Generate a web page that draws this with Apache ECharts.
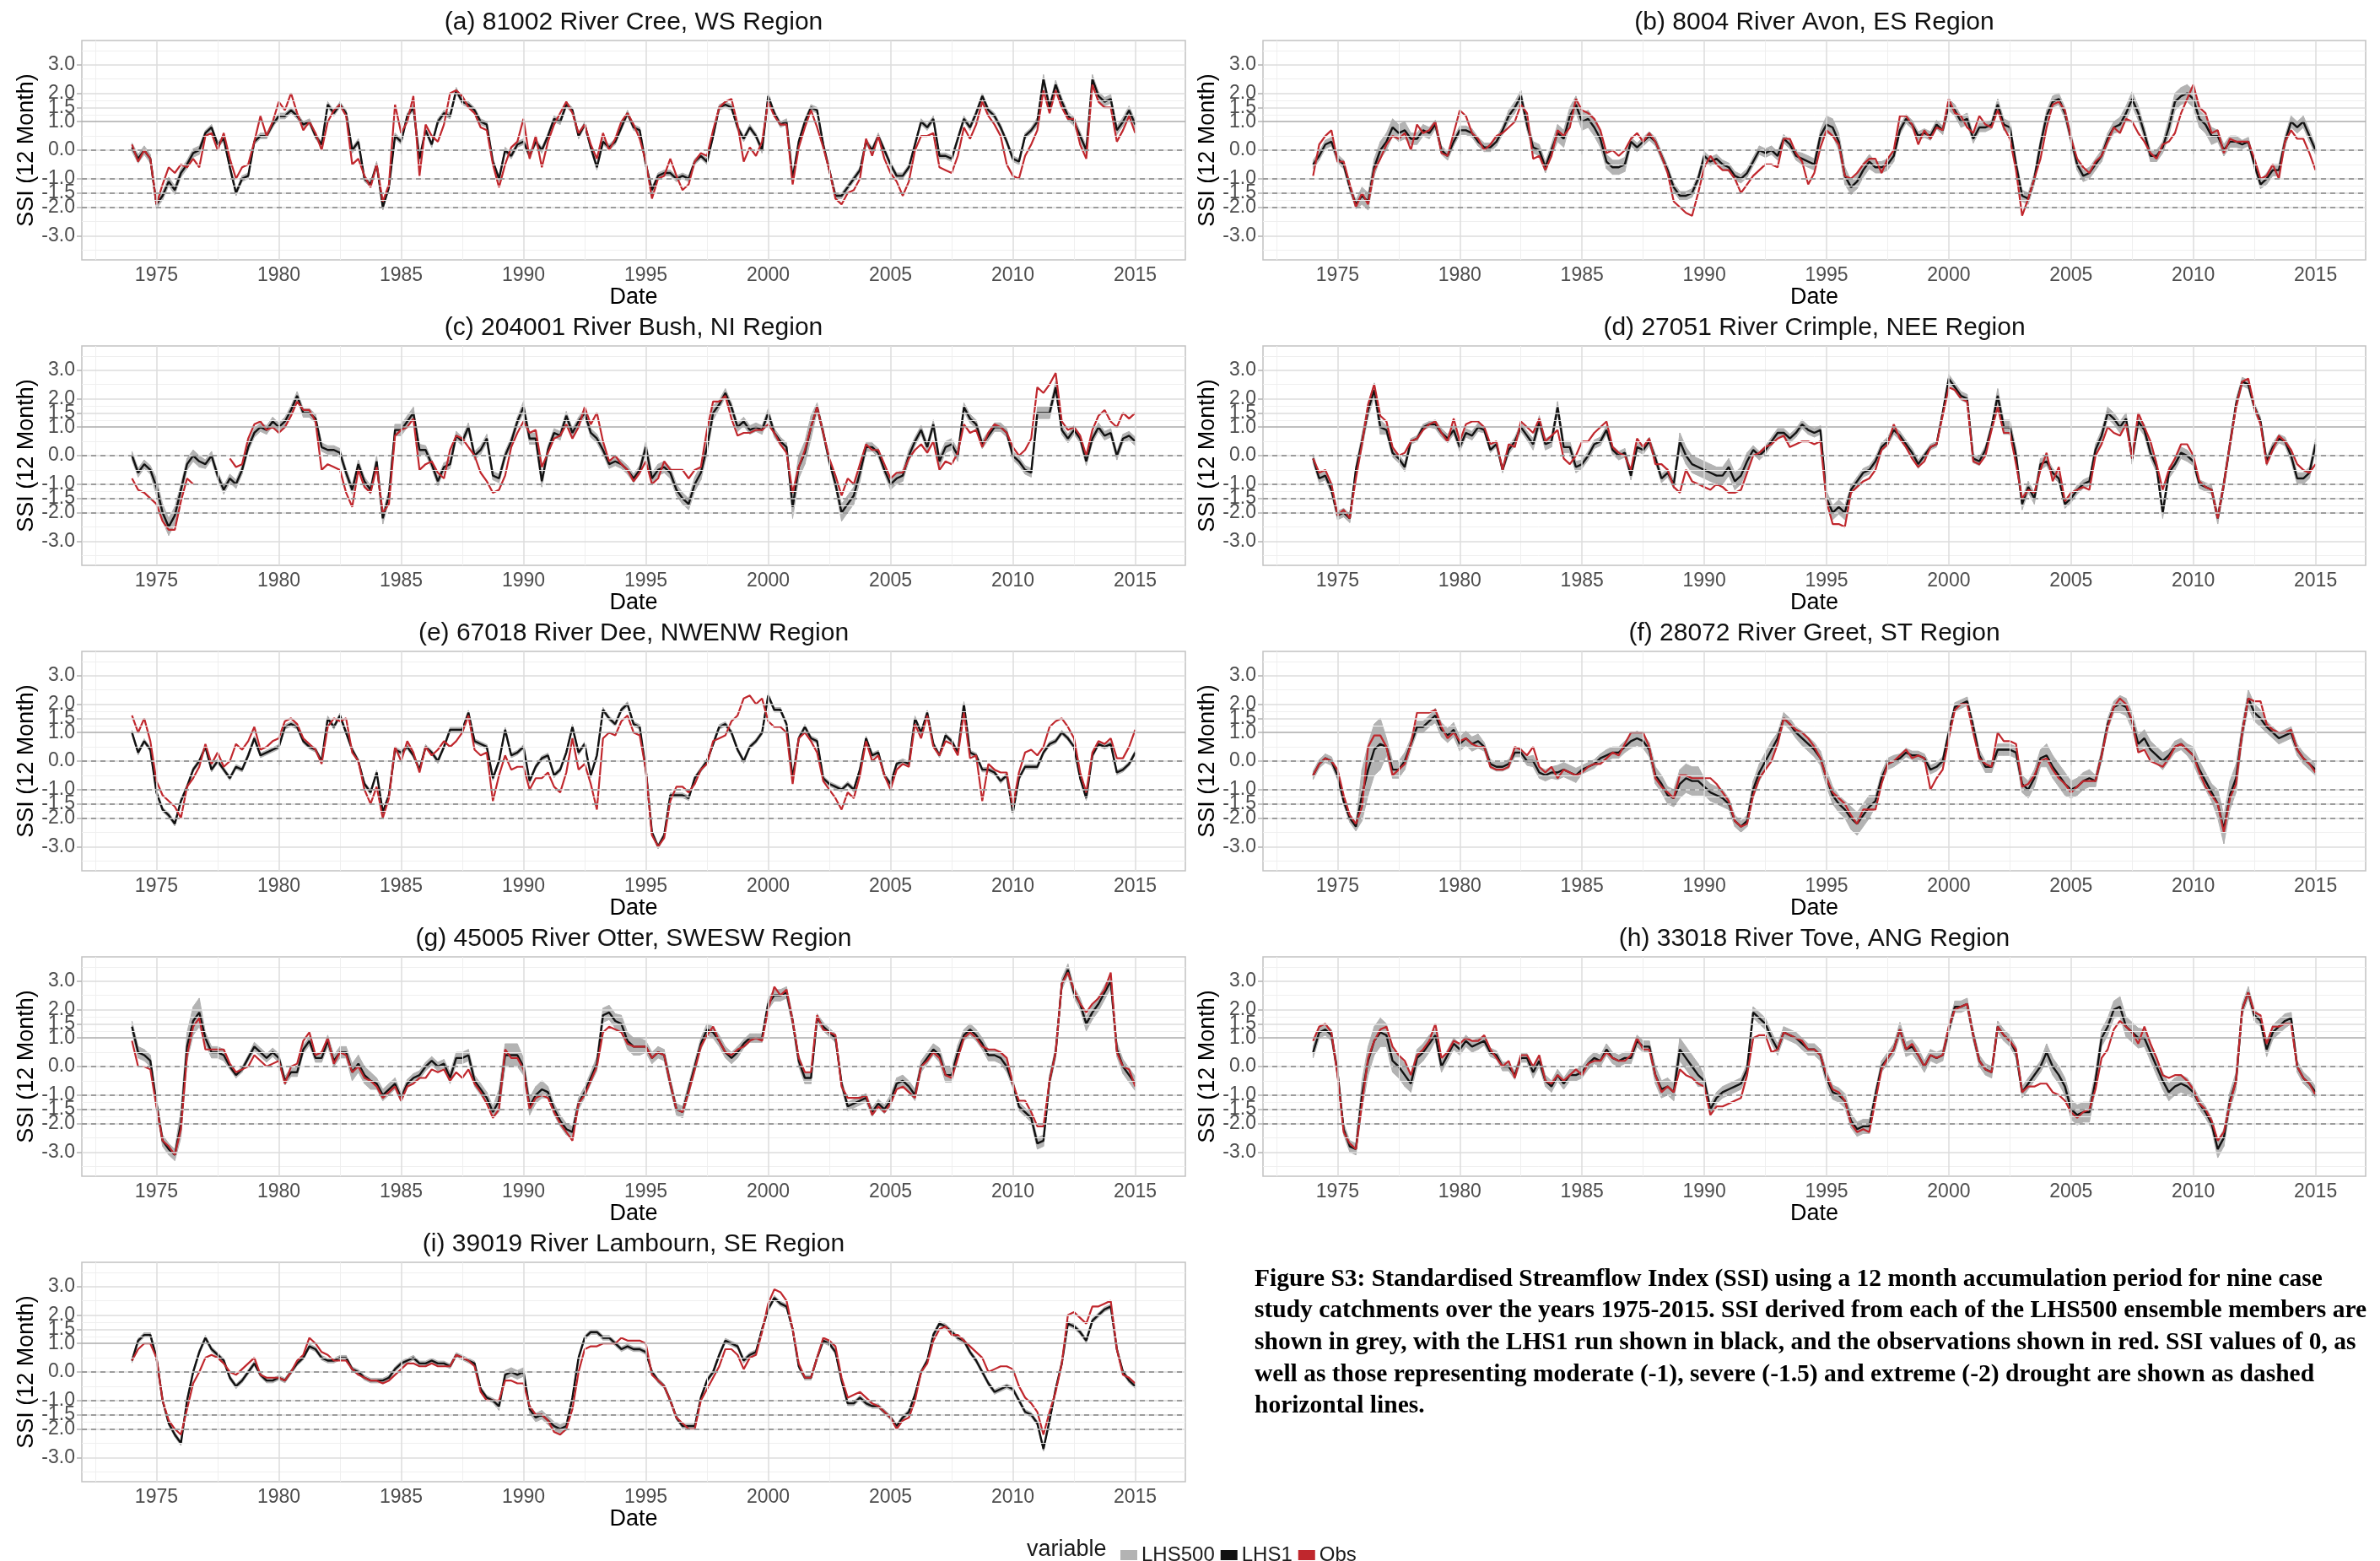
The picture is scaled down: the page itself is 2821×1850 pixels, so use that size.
<!DOCTYPE html>
<html><head><meta charset="utf-8">
<script src="https://cdn.jsdelivr.net/npm/echarts@6/dist/echarts.min.js"></script>
<style>html,body{margin:0;padding:0;background:#fff}#c{width:2821px;height:1850px}</style>
</head><body><div id="c"></div><script>
// ---- axis / tick definitions ----
const xTicks = [1975,1980,1985,1990,1995,2000,2005,2010,2015];
const xMinor = [1972.5,1977.5,1982.5,1987.5,1992.5,1997.5,2002.5,2007.5,2012.5];
const yTicks = [-3,-2,-1.5,-1,0,1,1.5,2,3];
const yMinor = [-3.5,-2.5,-1.75,-1.25,-0.5,0.5,1.25,1.75,2.5,3.5];
const droughtLines = [0,-1,-1.5,-2];
const T0 = 1974, STEP = 0.25; // quarterly samples, Jan 1974 .. Jan 2015

const titles = [
 '(a) 81002 River Cree, WS Region','(b) 8004 River Avon, ES Region',
 '(c) 204001 River Bush, NI Region','(d) 27051 River Crimple, NEE Region',
 '(e) 67018 River Dee, NWENW Region','(f) 28072 River Greet, ST Region',
 '(g) 45005 River Otter, SWESW Region','(h) 33018 River Tove, ANG Region',
 '(i) 39019 River Lambourn, SE Region'];

// ---- (a) ----
const aLHS1 = [0.1,-0.3,0.0,-0.3, -1.9,-1.6,-1.1,-1.4, -0.8,-0.5,-0.1,0.0, 0.6,0.8,0.2,0.4, -0.6,-1.5,-1.0,-0.9,
 0.3,0.5,0.5,0.9, 1.2,1.2,1.4,1.2, 0.9,1.0,0.5,0.2, 1.6,1.3,1.6,1.3, 0.0,0.3,-1.0,-1.2,
 -0.5,-2.0,-1.3,0.5, 0.3,1.2,1.5,-0.3, 0.7,0.2,1.0,1.3, 1.2,2.1,1.7,1.6, 1.4,1.0,0.9,-0.4,
 -1.0,0.0,-0.2,0.2, 0.3,-0.2,0.3,0.0, 0.5,1.1,1.0,1.6, 1.4,0.5,0.9,0.1, -0.6,0.3,0.1,0.3,
 0.8,1.3,0.8,0.7, -0.5,-1.4,-0.9,-0.8, -0.8,-1.0,-0.9,-1.0, -0.4,-0.2,-0.4,0.5, 1.5,1.6,1.5,0.8,
 0.4,0.8,0.5,0.0, 1.9,1.3,0.9,1.0, -1.0,0.3,1.0,1.5, 1.4,0.2,-0.7,-1.6, -1.6,-1.3,-1.0,-0.7,
 0.3,0.0,0.5,0.0, -0.5,-0.9,-0.9,-0.6, 0.2,1.0,0.8,1.1, -0.2,-0.2,-0.3,0.4, 1.1,0.8,1.3,1.9,
 1.4,1.2,0.8,0.3, -0.3,-0.4,0.5,0.7, 1.0,2.5,1.5,2.3, 1.7,1.2,1.0,0.5, 0.0,2.5,1.9,1.7,
 1.8,0.7,1.0,1.4, 0.9];
const aObs = [0.2,-0.4,0.0,-0.3, -1.9,-1.2,-0.6,-0.8, -0.5,-0.6,-0.3,-0.6, 0.5,0.6,0.0,0.6, -0.3,-1.0,-0.6,-0.5,
 0.3,1.2,0.5,1.0, 1.7,1.4,2.0,1.3, 0.7,1.0,0.6,0.0, 1.0,1.4,1.6,1.2, -0.5,-0.3,-0.9,-1.3,
 -0.5,-1.8,-1.2,1.6, 0.6,1.0,1.9,-0.9, 0.9,0.5,0.3,0.9, 2.0,2.1,1.9,1.5, 1.3,0.8,0.7,-0.5,
 -1.3,-0.5,0.1,0.3, 1.1,-0.3,0.5,-0.6, 0.3,0.9,1.3,1.7, 1.3,0.6,0.9,0.2, -0.3,0.6,0.0,0.4,
 1.0,1.3,0.9,0.4, -0.4,-1.7,-1.0,-0.9, -0.3,-0.9,-1.4,-1.2, -0.4,-0.1,-0.2,0.7, 1.5,1.7,1.8,0.9,
 -0.4,0.1,-0.2,0.3, 1.7,1.2,0.9,0.9, -1.2,0.1,0.8,1.4, 0.8,0.1,-0.7,-1.7, -1.9,-1.5,-1.4,-1.0,
 0.4,-0.2,0.5,-0.3, -0.8,-1.1,-1.6,-1.1, 0.0,0.5,0.5,0.6, -0.6,-0.7,-0.8,-0.2, 0.8,0.4,0.9,1.7,
 1.2,0.9,0.5,-0.5, -0.9,-1.0,-0.2,0.2, 0.7,2.1,1.3,2.1, 1.5,1.1,1.1,0.2, -0.3,2.3,1.7,1.5,
 1.5,0.3,0.7,1.2, 0.6];
const aSpread = [0.15,0.15,0.15,0.1,0.1,0.1,0.1,0.1,0.1,0.1,0.1,0.1,0.1,0.1,0.1,0.1,0.1,0.1,0.1,0.1,0.1,
 0.1,0.1,0.1,0.1,0.1,0.1,0.1,0.1,0.1,0.1,0.1,0.1,0.1,0.1,0.1,0.1,0.15,0.15,0.15,0.15,0.15];

// ---- (b) ----
const bLHS1 = [-0.5,-0.2,0.2,0.3, -0.3,-0.5,-1.3,-1.9, -1.6,-1.8,-0.6,0.0, 0.3,0.8,0.6,0.7, 0.4,0.4,0.7,0.6,
 0.9,0.0,-0.2,0.3, 0.7,0.7,0.6,0.3, 0.1,0.1,0.3,0.7, 1.2,1.5,1.9,0.9, 0.1,0.0,-0.6,0.0,
 0.6,0.4,1.2,1.6, 1.0,1.1,0.8,0.4, -0.4,-0.6,-0.6,-0.5, 0.3,0.1,0.3,0.5, 0.3,-0.2,-0.7,-1.3,
 -1.6,-1.6,-1.5,-1.0, -0.2,-0.4,-0.3,-0.5, -0.6,-0.9,-1.0,-0.8, -0.4,0.0,-0.1,0.0, -0.2,0.4,0.2,-0.2,
 -0.3,-0.4,-0.5,0.5, 0.9,0.8,0.3,-0.9, -1.3,-1.1,-0.7,-0.4, -0.6,-0.6,-0.5,-0.2, 0.7,1.1,0.9,0.5,
 0.6,0.5,0.9,0.7, 1.6,1.4,1.0,1.1, 0.4,0.8,0.8,0.9, 1.6,0.9,0.8,-0.5, -1.6,-1.7,-1.0,0.2,
 1.2,1.7,1.8,1.3, 0.4,-0.5,-0.9,-0.8, -0.5,-0.2,0.4,0.8, 0.9,1.3,1.8,1.3, 0.6,-0.2,-0.2,0.1,
 0.8,1.7,1.9,2.0, 1.8,1.1,0.9,0.5, 0.5,0.0,0.3,0.3, 0.2,0.3,-0.5,-1.2, -1.0,-0.7,-0.7,0.3,
 1.0,0.8,1.0,0.5, 0.0];
const bObs = [-0.9,0.2,0.5,0.7, -0.4,-0.4,-1.2,-2.0, -1.5,-1.9,-0.7,-0.3, 0.2,0.5,0.4,0.6, 0.0,0.9,0.6,0.7,
 1.0,-0.1,-0.2,0.6, 1.4,1.2,0.6,0.4, 0.0,0.2,0.5,0.6, 0.8,1.0,1.6,1.3, -0.3,-0.2,-0.7,-0.2,
 0.7,0.5,0.8,1.8, 1.4,1.3,1.1,0.7, -0.1,0.0,-0.2,0.0, 0.4,0.6,0.3,0.6, 0.3,-0.2,-0.8,-1.8,
 -2.0,-2.2,-2.3,-1.5, -0.6,-0.2,-0.5,-0.7, -0.7,-1.0,-1.5,-1.2, -0.9,-0.7,-0.5,-0.5, -0.6,0.4,0.4,-0.1,
 -0.4,-1.2,-0.8,0.1, 0.7,0.5,0.2,-0.9, -1.0,-0.8,-0.5,-0.3, -0.3,-0.8,-0.3,0.0, 1.2,1.2,0.9,0.2,
 0.7,0.4,0.8,0.7, 1.8,1.3,1.2,0.8, 0.6,1.2,0.9,0.8, 1.4,0.8,0.4,-0.7, -2.3,-1.7,-1.0,-0.3,
 0.8,1.6,1.7,1.4, 0.4,-0.3,-0.6,-0.8, -0.4,-0.2,0.3,0.8, 0.6,1.1,1.0,0.6, 0.3,-0.1,-0.3,0.2,
 0.3,0.6,1.3,1.8, 2.3,1.5,1.3,0.6, 0.7,-0.1,0.4,0.3, 0.3,0.3,-0.3,-1.0, -0.9,-0.5,-1.0,0.3,
 0.7,0.4,0.4,-0.1, -0.7];
const bSpread = [0.15,0.15,0.3,0.3,0.2,0.15,0.15,0.15,0.2,0.2,0.3,0.3,0.25,0.15,0.15,0.15,0.15,0.15,0.15,0.15,0.2,
 0.3,0.25,0.2,0.15,0.15,0.2,0.15,0.2,0.2,0.2,0.2,0.2,0.25,0.2,0.3,0.3,0.2,0.15,0.2,0.2,0.15];

// ---- (c) ----
const cLHS1 = [0.0,-0.6,-0.3,-0.5, -1.1,-2.0,-2.5,-2.1, -1.2,-0.3,0.0,-0.2, -0.3,0.0,-0.7,-1.2, -0.8,-1.0,-0.5,0.3,
 0.8,1.0,0.9,1.2, 1.0,1.2,1.6,2.1, 1.5,1.5,1.3,0.3, 0.2,0.2,0.1,-0.6, -1.2,-0.3,-0.9,-1.2,
 -0.2,-2.2,-1.4,0.9, 0.9,1.2,1.5,0.2, 0.2,-0.3,-0.9,-0.4, -0.3,0.7,0.5,1.0, 0.0,0.2,0.6,-0.7,
 -0.8,0.0,0.5,1.2, 1.7,0.6,0.6,-0.9, 0.2,0.8,0.7,1.4, 0.8,1.2,1.5,0.8, 0.6,0.2,-0.3,-0.2,
 -0.3,-0.5,-0.8,-0.5, 0.3,-0.8,-0.5,-0.4, -0.6,-1.2,-1.5,-1.7, -1.0,-0.6,0.3,1.5, 1.8,2.2,1.7,1.0,
 1.2,0.9,1.0,0.9, 1.5,0.8,0.5,0.3, -1.8,-0.4,0.1,1.0, 1.7,0.8,-0.2,-1.0, -2.0,-1.7,-1.4,-0.6,
 0.3,0.3,0.1,-0.5, -1.0,-0.8,-0.7,0.0, 0.5,0.9,0.3,1.1, -0.2,0.3,0.4,0.0, 1.7,1.3,1.1,0.4,
 0.7,1.0,1.0,0.8, 0.0,-0.2,-0.5,-0.6, 1.5,1.5,1.5,2.4, 0.9,0.6,0.9,0.6, -0.2,0.6,1.0,0.7,
 0.8,0.0,0.6,0.7, 0.5];
const cObs = [-0.8,-1.2,-1.3,-1.5, -1.7,-2.3,-2.6,-2.6, -1.6,-0.8,-1.0,null, null,null,null,null, -0.1,-0.4,-0.3,0.6,
 1.1,1.2,0.9,1.0, 0.8,1.0,1.4,1.9, 1.6,1.6,1.2,-0.5, -0.3,-0.4,-0.5,-1.3, -1.8,-0.5,-1.1,-1.3,
 -0.4,-2.0,-1.7,0.7, 0.9,1.0,1.3,-0.5, -0.3,-0.2,-0.6,-0.8, 0.2,0.7,0.6,0.3, 0.0,-0.6,-0.9,-1.3,
 -1.2,-0.7,0.3,0.8, 1.2,0.8,0.9,-0.4, 0.1,0.6,0.7,1.1, 0.6,1.0,1.7,1.1, 1.5,0.5,-0.2,0.0,
 -0.3,-0.5,-0.9,-0.6, -0.2,-1.0,-0.8,-0.2, -0.5,-0.5,-0.5,-0.8, -0.5,-0.4,0.9,1.9, 1.9,2.1,1.3,0.7,
 0.8,0.8,0.9,0.9, 1.1,0.8,0.4,0.1, -1.3,-0.4,0.2,1.0, 1.7,0.8,-0.1,-0.7, -1.4,-0.8,-1.0,-0.3,
 0.4,0.2,0.2,-0.3, -0.8,-0.6,-0.6,-0.1, 0.2,0.4,0.1,0.5, -0.5,-0.2,-0.3,0.1, 1.1,0.8,0.9,0.3,
 0.8,1.1,1.0,0.8, 0.3,0.0,0.2,0.6, 2.4,2.2,2.5,2.9, 1.2,0.9,1.0,0.7, 0.0,0.9,1.4,1.6,
 1.2,1.0,1.5,1.3, 1.5];
const cSpread = [0.15,0.3,0.2,0.15,0.15,0.15,0.15,0.15,0.15,0.15,0.2,0.2,0.15,0.15,0.15,0.15,0.2,0.15,0.15,0.15,0.15,
 0.2,0.2,0.25,0.15,0.15,0.15,0.4,0.15,0.3,0.15,0.2,0.15,0.2,0.15,0.15,0.15,0.2,0.15,0.15,0.15,0.15];

// ---- (d) ----
const dLHS1 = [-0.1,-0.8,-0.7,-1.2, -2.1,-2.0,-2.2,-0.5, 0.5,1.6,2.3,1.0, 0.9,0.1,-0.1,-0.4, 0.5,0.6,1.0,1.1,
 1.1,0.8,0.6,0.9, 0.3,0.8,0.7,1.0, 0.9,0.2,0.4,-0.5, 0.2,0.5,1.0,0.7, 0.4,1.2,0.4,0.5,
 1.7,0.3,0.3,-0.4, -0.3,0.0,0.4,0.5, 0.9,0.2,0.0,0.1, -0.7,0.3,0.2,0.5, -0.1,-0.8,-0.6,-1.0,
 0.5,0.0,-0.3,-0.4, -0.5,-0.6,-0.7,-0.7, -0.4,-0.9,-0.7,-0.2, 0.2,0.0,0.2,0.5, 0.8,0.8,0.6,0.8,
 1.1,0.9,0.8,0.9, -1.5,-2.0,-1.8,-2.0, -1.2,-0.9,-0.6,-0.5, -0.2,0.3,0.5,0.9, 0.7,0.4,0.1,-0.3,
 0.0,0.3,0.4,1.5, 2.7,2.4,2.1,2.0, -0.1,-0.2,0.2,1.0, 2.1,1.0,1.0,0.0, -1.7,-1.1,-1.5,-0.3,
 -0.2,-0.6,-0.8,-1.7, -1.5,-1.2,-1.0,-0.9, 0.2,0.7,1.5,1.3, 1.0,1.3,-0.1,1.2, 0.9,0.1,-0.4,-2.0,
 -0.6,-0.3,0.1,0.0, -0.2,-1.0,-1.1,-1.2, -2.2,-1.0,0.4,1.8, 2.6,2.5,1.7,1.2, -0.2,0.3,0.6,0.5,
 0.0,-0.8,-0.8,-0.6, 0.4];
const dObs = [-0.1,-0.6,-0.5,-1.0, -2.1,-1.9,-2.2,-0.8, 0.4,1.8,2.5,1.4, 1.2,0.3,0.0,0.1, 0.5,0.6,0.9,1.1,
 1.2,0.8,0.5,1.3, 0.5,1.1,1.2,1.2, 1.0,0.4,0.5,-0.5, 0.4,0.3,1.2,1.0, 0.8,1.3,0.5,0.7,
 0.9,-0.1,-0.3,0.0, 0.5,0.5,0.8,1.0, 1.2,0.3,0.1,0.0, -0.5,0.6,0.3,0.6, -0.3,-0.3,-0.5,-1.1,
 -1.3,-0.5,-0.9,-1.0, -1.1,-1.2,-1.0,-1.1, -1.3,-1.3,-1.2,-0.6, 0.0,0.1,0.3,0.4, 0.6,0.7,0.3,0.4,
 0.5,0.5,0.4,0.5, -1.6,-2.4,-2.4,-2.5, -1.3,-1.1,-0.9,-0.8, -0.5,0.2,0.4,1.1, 0.6,0.3,-0.1,-0.4,
 -0.2,0.3,0.4,1.4, 2.4,2.3,2.0,1.9, -0.2,-0.3,0.0,0.9, 1.7,0.8,0.8,-0.3, -1.5,-1.2,-1.3,-0.5,
 0.1,-0.9,-0.4,-1.6, -1.3,-1.2,-1.1,-1.2, 0.0,0.4,1.0,0.8, 0.7,1.1,-0.1,1.5, 1.0,0.5,-0.3,-1.2,
 -0.5,-0.1,0.4,0.4, 0.0,-0.9,-1.1,-1.2, -2.2,-1.0,0.4,1.7, 2.6,2.7,1.7,1.1, -0.3,0.2,0.7,0.5,
 0.2,-0.3,-0.5,-0.6, -0.3];
const dSpread = [0.15,0.15,0.25,0.15,0.1,0.15,0.15,0.1,0.15,0.2,0.2,0.15,0.15,0.15,0.15,0.3,0.3,0.3,0.15,0.15,0.15,
 0.25,0.15,0.15,0.15,0.1,0.15,0.15,0.25,0.2,0.15,0.15,0.2,0.2,0.2,0.2,0.15,0.2,0.15,0.15,0.2,0.2];

// ---- (e) ----
const eLHS1 = [1.0,0.3,0.7,0.4, -1.1,-1.7,-1.9,-2.2, -1.4,-0.9,-0.3,0.0, 0.5,-0.3,0.0,-0.3, -0.6,-0.2,-0.3,0.2,
 0.8,0.2,0.3,0.4, 0.5,1.2,1.3,1.2, 0.7,0.5,0.4,0.0, 1.5,1.2,1.6,1.0, 0.4,0.0,-0.8,-1.1,
 -0.4,-1.8,-1.2,0.4, 0.3,0.5,0.2,-0.3, 0.5,0.3,0.0,0.5, 1.1,1.1,1.1,1.7, 0.7,0.6,0.5,-0.6,
 0.0,1.1,0.2,0.3, 0.5,-0.7,-0.2,0.1, 0.2,-0.5,-0.3,0.3, 1.2,0.3,0.6,-0.5, 0.2,1.8,1.5,1.3,
 1.8,2.0,1.3,1.2, -0.3,-2.5,-3.0,-2.6, -1.2,-1.2,-1.2,-1.3, -0.6,-0.3,0.0,0.6, 1.2,1.3,1.0,0.4,
 0.0,0.5,0.7,1.0, 2.3,1.8,1.8,1.3, -0.6,0.8,1.2,0.8, 0.7,-0.6,-0.8,-0.9, -1.0,-0.8,-1.0,-0.3,
 0.8,0.2,0.3,-0.5, -0.8,-0.1,0.0,-0.1, 1.5,1.0,1.7,0.6, 0.2,0.9,0.7,0.3, 2.0,0.3,0.2,-0.3,
 -0.3,-0.4,-0.7,-0.5, -1.8,-0.6,-0.2,-0.2, -0.2,0.3,0.6,0.7, 1.0,0.8,0.5,-0.6, -1.3,0.2,0.6,0.5,
 0.6,-0.4,-0.3,-0.1, 0.3];
const eObs = [1.6,1.0,1.5,0.7, -0.7,-1.2,-1.4,-1.6, -2.0,-0.9,-0.6,-0.2, 0.6,-0.1,0.3,-0.2, 0.0,0.6,0.4,0.7,
 1.2,0.4,0.5,0.7, 0.8,1.4,1.5,1.3, 0.8,0.6,0.4,-0.1, 1.2,1.5,1.4,1.5, 0.3,0.0,-1.0,-1.5,
 -0.9,-2.0,-1.3,0.5, 0.0,0.7,0.3,-0.4, 0.5,0.2,0.4,0.7, 0.5,0.7,1.0,1.6, 0.4,0.2,0.3,-1.4,
 -0.5,0.2,-0.3,-0.2, -0.2,-1.0,-0.6,-0.6, -0.4,-0.9,-1.1,-0.4, 0.8,-0.3,-0.1,-0.8, -1.7,0.8,1.0,0.9,
 1.4,1.6,1.0,0.9, -0.3,-2.6,-3.0,-2.7, -1.4,-0.9,-0.9,-1.1, -0.8,-0.3,-0.1,0.7, 0.8,0.9,1.4,1.6,
 2.2,2.3,2.0,2.2, 1.4,1.2,1.2,1.0, -0.8,0.8,1.0,0.7, 0.3,-0.7,-1.0,-1.3, -1.7,-1.1,-1.3,-0.5,
 0.7,0.0,0.2,-0.5, -1.0,-0.3,-0.1,-0.2, 1.3,0.8,1.6,0.5, 0.2,0.7,0.6,0.2, 1.7,0.1,0.2,-1.4,
 -0.1,-0.3,-0.4,-0.4, -1.6,-0.4,0.3,0.4, 0.2,0.5,1.2,1.4, 1.5,1.2,0.8,-0.4, -1.1,0.3,0.7,0.6,
 0.8,0.1,0.1,0.5, 1.1];
const eSpread = [0.08,0.08,0.08,0.08,0.08,0.08,0.08,0.08,0.08,0.08,0.08,0.08,0.08,0.08,0.08,0.08,0.08,0.08,0.08,0.08,0.08,
 0.08,0.08,0.08,0.08,0.08,0.08,0.08,0.08,0.08,0.08,0.08,0.08,0.08,0.08,0.08,0.08,0.08,0.08,0.08,0.08,0.08];

// ---- (f) ----
const fLHS1 = [-0.5,-0.1,0.1,0.0, -0.5,-1.4,-2.0,-2.3, -1.2,-0.3,0.4,0.6, 0.5,-0.3,-0.3,0.0, 0.6,1.2,1.2,1.4,
 1.6,1.1,0.9,1.1, 0.6,0.8,0.6,0.7, 0.5,-0.1,-0.2,-0.2, -0.1,0.3,0.3,0.0, 0.0,-0.4,-0.5,-0.4,
 -0.4,-0.3,-0.4,-0.5, -0.3,-0.2,-0.1,0.1, 0.2,0.3,0.3,0.5, 0.7,0.8,0.7,0.4, -0.5,-0.8,-1.2,-1.3,
 -0.8,-0.6,-0.7,-0.7, -0.9,-1.1,-1.2,-1.3, -1.5,-2.1,-2.3,-2.1, -1.0,-0.4,0.0,0.4, 0.8,1.5,1.3,1.0,
 0.8,0.6,0.4,0.1, -0.6,-1.2,-1.5,-1.7, -2.0,-2.2,-1.9,-1.6, -1.4,-0.6,-0.1,0.0, 0.1,0.3,0.2,0.2,
 0.1,-0.3,-0.2,0.0, 1.0,1.9,2.0,2.1, 1.2,0.2,-0.2,-0.2, 0.4,0.4,0.4,0.3, -0.8,-1.0,-0.6,0.1,
 0.2,-0.2,-0.5,-0.8, -1.0,-0.9,-0.7,-0.6, -0.7,0.2,1.3,1.9, 2.0,1.9,1.4,0.6, 0.8,0.4,0.2,0.0,
 0.2,0.5,0.6,0.4, 0.2,-0.3,-0.7,-1.1, -1.5,-2.4,-1.2,-0.6, 1.0,2.2,1.7,1.5, 1.2,1.0,0.8,0.9,
 1.0,0.4,0.1,-0.1, -0.3];
const fObs = [-0.5,-0.1,0.1,0.0, -0.3,-1.2,-1.9,-2.2, -1.6,0.5,0.9,0.9, 0.5,-0.5,-0.3,-0.1, 0.6,1.7,1.7,1.7,
 1.8,1.2,0.8,1.0, 0.7,0.8,0.6,0.5, 0.5,-0.2,-0.3,-0.3, -0.2,0.5,0.4,0.2, 0.5,-0.2,-0.4,-0.2,
 -0.6,-0.3,-0.4,-0.5, -0.4,-0.2,-0.1,-0.1, 0.1,0.3,0.2,0.6, 1.0,1.0,1.0,0.5, -0.6,-0.9,-1.1,-1.3,
 -0.5,-0.5,-0.6,-0.6, -0.6,-0.6,-0.8,-1.1, -1.4,-2.1,-2.3,-2.2, -1.2,-0.6,-0.3,0.0, 0.6,1.5,1.3,1.1,
 1.0,0.8,0.5,0.1, -0.6,-1.1,-1.3,-1.5, -1.9,-2.2,-1.7,-1.7, -1.7,-0.8,-0.1,0.0, 0.2,0.4,0.1,0.2,
 0.1,-1.0,-0.6,-0.3, 0.8,1.8,2.0,2.0, 1.0,0.1,-0.1,-0.2, 1.0,0.7,0.7,0.6, -0.9,-0.8,-0.5,0.0,
 0.1,-0.3,-0.6,-0.8, -1.1,-0.9,-0.7,-0.7, -0.7,0.2,1.2,1.9, 2.2,2.0,1.4,0.3, 0.4,0.0,-0.1,-0.2,
 0.1,0.5,0.6,0.4, 0.2,-0.4,-0.9,-1.2, -1.5,-2.5,-1.3,-0.8, 1.0,2.2,2.1,2.1, 1.3,1.1,1.0,1.0,
 1.1,0.4,0.1,-0.1, -0.4];
const fSpread = [0.15,0.15,0.9,0.3,0.2,0.25,0.25,0.15,0.15,0.2,0.25,0.15,0.2,0.25,0.3,0.5,0.3,0.2,0.3,0.2,0.25,
 0.3,0.4,0.2,0.15,0.15,0.15,0.2,0.2,0.3,0.4,0.3,0.2,0.3,0.3,0.2,0.3,0.5,0.3,0.2,0.2,0.2];

// ---- (g) ----
const gLHS1 = [1.4,0.5,0.4,0.2, -1.3,-2.6,-2.9,-3.1, -2.0,0.7,1.6,1.9, 1.0,0.5,0.5,0.4, 0.0,-0.3,-0.1,0.3,
 0.7,0.5,0.3,0.5, 0.3,-0.5,-0.2,-0.2, 0.6,0.9,0.3,0.3, 0.9,0.2,0.5,0.5, -0.2,0.1,-0.3,-0.5,
 -0.6,-1.0,-0.8,-0.6, -1.1,-0.6,-0.4,-0.3, 0.0,0.2,0.0,0.1, -0.4,0.3,0.3,0.4, -0.5,-0.8,-1.1,-1.6,
 -1.2,0.4,0.4,0.4, 0.0,-1.4,-1.0,-0.8, -0.9,-1.5,-1.9,-2.2, -2.3,-1.3,-0.9,-0.4, 0.1,1.8,1.9,1.6,
 1.5,0.9,0.7,0.7, 0.7,0.3,0.5,0.4, -0.6,-1.5,-1.6,-0.8, 0.0,0.8,1.3,1.2, 0.9,0.5,0.3,0.5,
 0.8,1.0,1.0,1.0, 2.2,2.5,2.5,2.6, 1.6,0.2,-0.4,-0.4, 1.7,1.4,1.2,1.0, -0.6,-1.4,-1.3,-1.2,
 -1.1,-1.6,-1.3,-1.5, -1.2,-0.6,-0.5,-0.7, -1.0,0.0,0.3,0.6, 0.4,-0.3,-0.3,0.5, 1.1,1.3,1.1,0.8,
 0.4,0.4,0.3,0.0, -0.6,-1.4,-1.6,-1.8, -2.7,-2.6,-0.5,0.5, 2.9,3.4,2.6,2.2, 1.5,1.9,2.2,2.6,
 3.0,0.6,0.0,-0.3, -0.6];
const gObs = [0.9,0.0,0.0,-0.1, -1.4,-2.6,-2.8,-3.1, -2.2,0.4,1.4,1.7, 0.6,0.6,0.6,0.6, 0.1,-0.2,-0.1,0.0,
 0.4,0.2,0.0,0.1, 0.2,-0.6,0.0,0.1, 0.9,1.2,0.4,0.5, 1.0,0.1,0.5,0.4, -0.2,0.0,-0.4,-0.5,
 -0.7,-1.1,-0.9,-0.7, -1.2,-0.7,-0.6,-0.4, -0.4,-0.1,-0.2,-0.1, -0.5,-0.2,-0.4,-0.1, -0.6,-0.9,-1.3,-1.8,
 -1.5,0.6,0.3,0.3, -0.1,-1.5,-1.1,-1.0, -1.1,-1.6,-2.0,-2.3, -2.6,-1.3,-1.0,-0.5, 0.0,1.2,1.4,1.3,
 1.2,0.8,0.7,0.7, 0.7,0.3,0.5,0.4, -0.6,-1.5,-1.6,-0.9, -0.1,0.7,1.1,1.4, 0.9,0.5,0.4,0.6,
 0.7,0.9,1.0,0.9, 2.0,2.8,2.5,2.7, 1.6,0.3,-0.2,-0.2, 1.8,1.3,1.2,1.1, -0.7,-1.1,-1.1,-1.1,
 -1.0,-1.7,-1.4,-1.6, -1.3,-0.8,-0.7,-0.9, -1.1,0.0,0.2,0.5, 0.3,-0.3,-0.4,0.3, 1.0,1.2,1.0,0.7,
 0.6,0.6,0.5,0.3, -0.6,-1.2,-1.2,-1.6, -2.1,-2.1,-0.5,0.5, 2.9,3.3,2.7,2.2, 1.9,2.2,2.4,2.7,
 3.3,0.5,0.0,-0.1, -0.7];
const gSpread = [0.2,0.2,0.5,0.2,0.1,0.15,0.15,0.15,0.2,0.3,0.2,0.15,0.15,0.2,0.2,0.4,0.3,0.2,0.2,0.25,0.3,
 0.2,0.2,0.2,0.2,0.15,0.2,0.2,0.15,0.15,0.15,0.2,0.2,0.25,0.2,0.2,0.15,0.2,0.2,0.25,0.25,0.25];

// ---- (h) ----
const hLHS1 = [0.5,1.2,1.3,1.1, -0.2,-2.2,-2.8,-2.9, -1.0,0.2,0.9,1.2, 1.1,0.2,0.0,-0.3, -0.6,0.3,0.5,0.8,
 1.1,0.0,0.4,0.8, 0.6,0.9,0.7,0.8, 0.9,0.5,0.4,0.0, 0.0,-0.3,0.3,0.3, -0.2,0.2,-0.5,-0.7,
 -0.3,-0.6,-0.3,-0.3, -0.2,0.1,0.3,0.2, 0.6,0.3,0.2,0.3, 0.3,0.9,0.7,0.7, -0.3,-0.8,-0.7,-0.9,
 0.6,0.3,0.0,-0.3, -0.5,-1.5,-1.1,-0.9, -0.8,-0.7,-0.6,-0.1, 1.9,1.7,1.5,1.0, 0.6,1.2,1.1,1.0,
 0.8,0.6,0.6,0.4, -0.4,-0.9,-1.0,-1.2, -1.9,-2.2,-2.1,-2.1, -1.0,0.0,0.3,0.6, 1.3,0.6,0.7,0.4,
 0.0,0.4,0.3,0.4, 1.3,2.1,2.1,2.2, 1.1,0.2,-0.1,-0.2, 1.4,1.1,0.9,0.5, -0.9,-0.6,-0.3,0.0,
 0.5,0.0,-0.3,-0.7, -1.5,-1.7,-1.6,-1.6, -0.5,1.0,1.4,2.0, 2.1,1.4,1.2,1.0, 1.0,0.5,0.0,-0.5,
 -0.9,-0.7,-0.6,-0.7, -0.9,-1.3,-1.6,-2.0, -2.9,-2.5,-1.2,-0.5, 2.0,2.6,1.8,1.6, 0.6,1.2,1.4,1.6,
 1.7,0.0,-0.4,-0.6, -0.9];
const hObs = [0.9,1.4,1.5,1.2, -0.3,-2.3,-2.7,-2.9, -1.3,0.3,0.9,1.3, 1.4,0.7,0.4,0.2, -0.3,0.4,0.6,0.9,
 1.5,0.3,0.5,0.9, 0.8,1.0,0.9,0.9, 1.1,0.6,0.3,0.0, 0.2,-0.4,0.4,0.4, 0.0,0.4,-0.5,-0.6,
 -0.3,-0.5,-0.3,-0.1, -0.3,0.1,0.2,0.2, 0.5,0.3,0.2,0.2, 0.4,1.0,0.6,0.6, -0.3,-0.9,-0.7,-0.9,
 -0.1,-0.3,-0.4,-0.6, -0.7,-1.7,-1.4,-1.4, -1.3,-1.2,-1.1,-0.3, 1.0,1.1,1.1,0.5, 0.6,1.2,1.1,1.0,
 0.9,0.6,0.6,0.4, -0.3,-0.8,-0.9,-1.2, -2.0,-2.3,-2.2,-2.3, -1.2,-0.1,0.3,0.6, 1.3,0.6,0.8,0.4,
 0.0,0.4,0.3,0.4, 1.4,2.0,2.1,2.2, 1.1,0.2,-0.1,-0.2, 1.4,1.1,0.9,0.6, -0.9,-0.7,-0.7,-0.6,
 -0.6,-0.9,-1.0,-1.2, -1.6,-1.8,-1.6,-1.5, -0.8,0.3,0.6,1.3, 1.6,1.4,1.2,0.8, 1.4,0.8,0.3,-0.3,
 -0.4,-0.3,-0.3,-0.5, -0.8,-1.3,-1.5,-1.9, -2.6,-2.3,-1.3,-0.5, 2.0,2.6,1.9,1.8, 0.8,1.4,1.4,1.5,
 1.5,0.0,-0.4,-0.6, -1.0];
const hSpread = [0.2,0.2,0.5,0.4,0.3,0.2,0.2,0.15,0.15,0.2,0.2,0.2,0.2,0.2,0.3,0.4,0.2,0.2,0.2,0.2,0.2,
 0.25,0.25,0.2,0.25,0.2,0.2,0.2,0.2,0.2,0.3,0.35,0.3,0.35,0.3,0.3,0.2,0.3,0.2,0.25,0.2,0.2];

// ---- (i) ----
const iLHS1 = [0.4,1.1,1.3,1.3, 0.5,-1.0,-1.8,-2.2, -2.5,-1.0,0.0,0.7, 1.2,0.8,0.6,0.4, -0.2,-0.5,-0.3,0.0,
 0.3,-0.1,-0.3,-0.3, -0.2,-0.3,0.0,0.3, 0.5,0.9,0.8,0.5, 0.4,0.4,0.5,0.5, 0.1,0.0,-0.2,-0.3,
 -0.3,-0.3,-0.2,0.1, 0.3,0.4,0.5,0.3, 0.3,0.4,0.3,0.3, 0.2,0.6,0.5,0.4, 0.3,-0.6,-0.9,-1.0,
 -1.2,-0.1,0.0,-0.1, 0.0,-1.3,-1.6,-1.5, -1.7,-1.9,-2.0,-1.9, -0.9,0.5,1.2,1.4, 1.4,1.2,1.2,1.0,
 0.8,0.9,0.8,0.8, 0.7,0.0,-0.3,-0.5, -1.0,-1.6,-1.9,-1.9, -1.9,-0.9,-0.3,0.0, 0.6,1.1,1.0,0.9,
 0.4,0.6,0.7,1.5, 2.2,2.6,2.4,2.3, 1.5,0.2,-0.2,-0.2, 0.5,1.1,1.0,0.7, -0.3,-1.1,-1.1,-0.9,
 -1.1,-1.2,-1.2,-1.4, -1.6,-1.9,-1.6,-1.4, -0.8,0.0,0.4,1.3, 1.7,1.6,1.4,1.2, 1.1,0.7,0.4,0.0,
 -0.4,-0.7,-0.6,-0.5, -0.6,-1.0,-1.4,-1.5, -1.8,-2.7,-1.7,-0.6, 0.3,1.7,1.6,1.4, 1.1,1.8,2.0,2.2,
 2.3,0.8,0.0,-0.3, -0.5];
const iObs = [0.4,0.8,1.0,1.0, 0.5,-1.0,-1.7,-2.0, -2.2,-1.3,-0.4,0.0, 0.5,0.6,0.5,0.3, 0.0,-0.1,0.1,0.3,
 0.5,-0.1,-0.2,-0.2, -0.2,-0.3,0.0,0.4, 0.6,1.2,1.0,0.7, 0.6,0.4,0.4,0.4, 0.1,-0.1,-0.2,-0.3,
 -0.3,-0.4,-0.3,-0.1, 0.1,0.3,0.3,0.2, 0.2,0.3,0.2,0.2, 0.2,0.6,0.5,0.4, 0.2,-0.7,-1.0,-1.0,
 -1.0,-0.3,-0.3,-0.4, -0.4,-1.2,-1.5,-1.5, -1.7,-2.1,-2.2,-2.0, -1.3,0.0,0.8,0.9, 0.9,1.0,1.0,1.0,
 1.2,1.1,1.1,1.1, 1.0,-0.1,-0.3,-0.5, -1.0,-1.6,-1.8,-2.0, -2.0,-1.0,-0.6,-0.2, 0.2,0.8,0.8,0.6,
 0.1,0.5,0.6,1.4, 2.4,2.9,2.8,2.5, 1.5,0.3,-0.2,-0.2, 0.5,1.2,1.1,0.9, -0.2,-0.9,-0.8,-0.7,
 -0.9,-1.1,-1.2,-1.4, -1.6,-2.0,-1.7,-1.6, -1.0,0.0,0.3,1.1, 1.5,1.6,1.3,1.3, 1.1,0.9,0.7,0.5,
 0.0,0.1,0.2,0.2, 0.1,-0.5,-0.9,-1.1, -1.4,-2.2,-1.4,-0.7, 0.3,2.0,2.1,1.9, 1.7,2.3,2.3,2.4,
 2.5,0.8,-0.1,-0.2, -0.4];
const iSpread = [0.08,0.08,0.08,0.08,0.08,0.08,0.08,0.08,0.08,0.08,0.08,0.08,0.08,0.08,0.08,0.15,0.15,0.15,0.08,0.08,0.08,
 0.08,0.08,0.08,0.08,0.08,0.08,0.08,0.08,0.08,0.08,0.08,0.08,0.08,0.08,0.08,0.08,0.08,0.08,0.08,0.08,0.08];

// ---- assemble ----
const panels = [
 [aLHS1,aObs,aSpread],[bLHS1,bObs,bSpread],[cLHS1,cObs,cSpread],[dLHS1,dObs,dSpread],
 [eLHS1,eObs,eSpread],[fLHS1,fObs,fSpread],[gLHS1,gObs,gSpread],[hLHS1,hObs,hSpread],[iLHS1,iObs,iSpread]];

const FONT = "'Liberation Sans', Arial, Helvetica, sans-serif";
const COL_BAND = '#b3b3b3', COL_L = '#111111', COL_O = '#c0272d';
const grid=[], xAxis=[], yAxis=[], series=[], graphic=[];
const tAt = k => +(T0 + k*STEP).toFixed(3);

panels.forEach((p, i) => {
  const [L, O, S] = p;
  const col = i % 2, row = Math.floor(i / 2);
  const left = col ? 1497 : 97, width = col ? 1307 : 1308;
  const top = 48 + row * 362, height = 260;
  grid.push({left, top, width, height, show:true, backgroundColor:'#ffffff', borderColor:'#c2c2c2', borderWidth:1.5});
  xAxis.push({type:'value', gridIndex:i, min:1971.95, max:2017.05,
    axisLine:{show:false}, splitLine:{show:false},
    axisTick:{show:true, customValues:xTicks, length:5, lineStyle:{color:'#b3b3b3', width:1.5}},
    axisLabel:{customValues:xTicks, formatter:v=>String(Math.round(v)), fontSize:23, color:'#4d4d4d', margin:7, fontFamily:FONT},
    name:'Date', nameLocation:'middle', nameGap:29, nameTextStyle:{fontSize:27, color:'#000', fontFamily:FONT}});
  yAxis.push({type:'value', gridIndex:i, min:-3.85, max:3.85,
    axisLine:{show:false}, splitLine:{show:false},
    axisTick:{show:true, customValues:yTicks, length:6, lineStyle:{color:'#b3b3b3', width:1.5}},
    axisLabel:{customValues:yTicks, formatter:v=>v.toFixed(1), fontSize:23, color:'#4d4d4d', margin:8, fontFamily:FONT},
    name:'SSI (12 Month)', nameLocation:'middle', nameGap:52, nameRotate:90, nameTextStyle:{fontSize:27, color:'#000', fontFamily:FONT}});

  const ml = [];
  yMinor.forEach(v => ml.push({yAxis:v, lineStyle:{color:'#efefef', width:1, type:'solid'}}));
  xMinor.forEach(v => ml.push({xAxis:v, lineStyle:{color:'#efefef', width:1, type:'solid'}}));
  yTicks.forEach(v => ml.push({yAxis:v, lineStyle:{color: v===1 ? '#ababab' : '#dcdcdc', width:1.5, type:'solid'}}));
  xTicks.forEach(v => ml.push({xAxis:v, lineStyle:{color:'#dcdcdc', width:1.5, type:'solid'}}));
  droughtLines.forEach(v => ml.push({yAxis:v, lineStyle:{color:'#9c9c9c', width:2, type:[6,5]}}));

  // holder series for gridlines (invisible line)
  series.push({type:'line', name:'grid', xAxisIndex:i, yAxisIndex:i, data:L.map((v,k)=>[tAt(k),v]), z:1,
    showSymbol:false, symbol:'none', lineStyle:{opacity:0}, silent:true,
    markLine:{silent:true, symbol:['none','none'], label:{show:false}, animation:false, data:ml}});

  // LHS500 ensemble envelope
  const bandData = L.map((v,k) => {
    const s = S[Math.floor(k/4)];
    return [tAt(k), +(v - s).toFixed(3), +(v + s).toFixed(3)];
  });
  series.push({type:'custom', name:'LHS500', xAxisIndex:i, yAxisIndex:i, data:bandData, z:2, silent:true, clip:true,
    color:COL_BAND, itemStyle:{color:COL_BAND}, encode:{x:0, y:[1,2]},
    renderItem:(params, api) => {
      const k = params.dataIndex;
      if (k >= bandData.length - 1) return null;
      const a = bandData[k], b = bandData[k+1];
      const pts = [api.coord([a[0],a[1]]), api.coord([b[0],b[1]]), api.coord([b[0],b[2]]), api.coord([a[0],a[2]])];
      return {type:'polygon', shape:{points:pts}, style:{fill:COL_BAND, stroke:COL_BAND, lineWidth:1}};
    }});
  series.push({type:'line', name:'LHS1', xAxisIndex:i, yAxisIndex:i, data:L.map((v,k)=>[tAt(k),v]), z:3,
    showSymbol:false, symbol:'none', color:COL_L, itemStyle:{color:COL_L}, lineStyle:{color:COL_L, width:2.4}, silent:true});
  series.push({type:'line', name:'Obs', xAxisIndex:i, yAxisIndex:i, data:O.map((v,k)=>[tAt(k),v]), z:4, connectNulls:false,
    showSymbol:false, symbol:'none', color:COL_O, itemStyle:{color:COL_O}, lineStyle:{color:COL_O, width:2.2}, silent:true});

  graphic.push({type:'text', x: left + width/2, y: row*362 + 27, z:10,
    style:{text: titles[i], font: '30px ' + FONT, fill:'#111', align:'center', verticalAlign:'middle',
           textAlign:'center', textVerticalAlign:'middle'}});
});

// legend title
graphic.push({type:'text', left:1217, top:1823, style:{text:'variable', font:'27px '+FONT, fill:'#1a1a1a'}});
// caption
const caption = [
 'Figure S3: Standardised Streamflow Index (SSI) using a 12 month accumulation period for nine case',
 'study catchments over the years 1975-2015. SSI derived from each of the LHS500 ensemble members are',
 'shown in grey, with the LHS1 run shown in black, and the observations shown in red. SSI values of 0, as',
 'well as those representing moderate (-1), severe (-1.5) and extreme (-2) drought are shown as dashed',
 'horizontal lines.'];
caption.forEach((line, k) => {
  graphic.push({type:'text', left:1487, top: 1501 + k*37.7,
    style:{text: line, font:'bold 29.5px "Liberation Serif", "Times New Roman", serif', fill:'#000'}});
});

const chart = echarts.init(document.getElementById('c'), null, {renderer:'canvas'});
chart.setOption({
  animation:false, backgroundColor:'#ffffff',
  grid, xAxis, yAxis, series, graphic,
  legend:{data:['LHS500','LHS1','Obs'], left:1323, top:1826, itemWidth:20, itemHeight:12, itemGap:7,
    icon:'rect', selectedMode:false, textStyle:{fontSize:24, color:'#1a1a1a', fontFamily:FONT}}
});
</script></body></html>
